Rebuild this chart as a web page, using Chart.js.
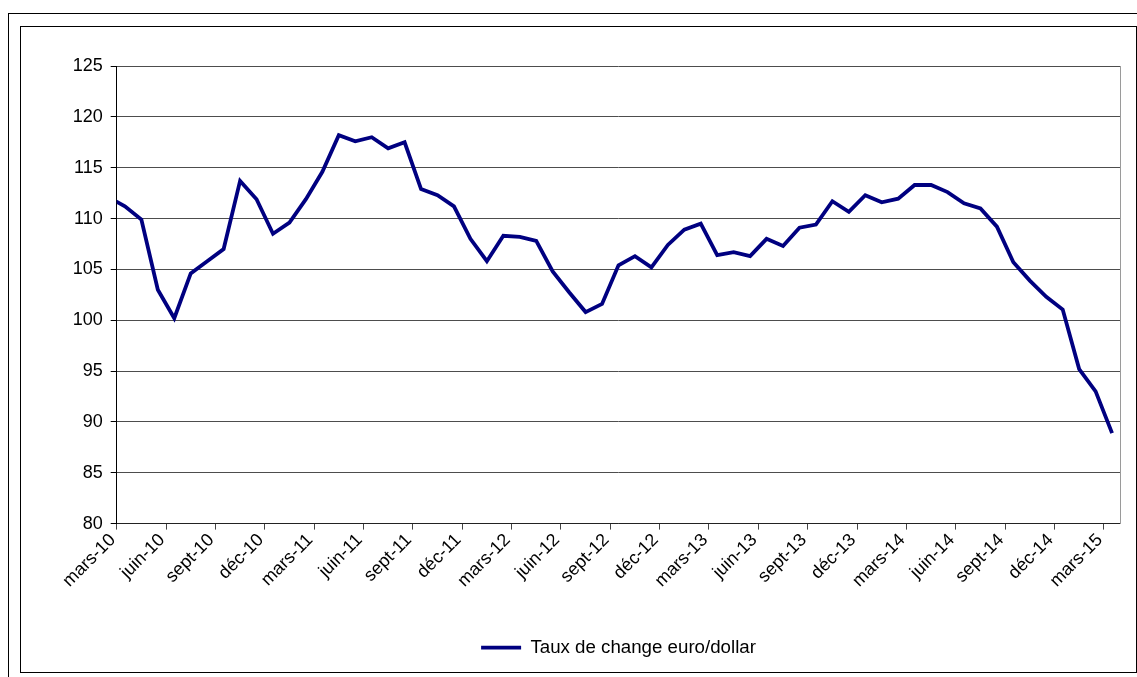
<!DOCTYPE html>
<html lang="fr">
<head>
<meta charset="utf-8">
<title>Taux de change euro/dollar</title>
<script src="https://cdn.jsdelivr.net/npm/chart.js@4.4.1/dist/chart.umd.min.js"></script>
<style>
  html, body { margin: 0; padding: 0; background: #fff; overflow: hidden; }
  body { width: 1137px; height: 677px; position: relative; }
  .frame { position: absolute; border: 1px solid #000; box-sizing: border-box; }
  #outer { left: 8px; top: 13px; width: 1200px; height: 800px; }
  #inner { left: 20px; top: 26px; width: 1117px; height: 647px; }
  #chart { position: absolute; left: 0; top: 0; }
</style>
</head>
<body>
<div class="frame" id="outer"></div>
<div class="frame" id="inner"></div>
<canvas id="chart" width="1137" height="677"></canvas>
<script>
// Monthly averages, stamped mid-month; the first one sits left of the axis and gets clipped
const months = [
  'févr-10', 'mars-10', 'avr-10', 'mai-10', 'juin-10', 'juil-10', 'août-10', 'sept-10', 'oct-10', 'nov-10', 'déc-10',
  'janv-11', 'févr-11', 'mars-11', 'avr-11', 'mai-11', 'juin-11', 'juil-11', 'août-11', 'sept-11', 'oct-11', 'nov-11', 'déc-11',
  'janv-12', 'févr-12', 'mars-12', 'avr-12', 'mai-12', 'juin-12', 'juil-12', 'août-12', 'sept-12', 'oct-12', 'nov-12', 'déc-12',
  'janv-13', 'févr-13', 'mars-13', 'avr-13', 'mai-13', 'juin-13', 'juil-13', 'août-13', 'sept-13', 'oct-13', 'nov-13', 'déc-13',
  'janv-14', 'févr-14', 'mars-14', 'avr-14', 'mai-14', 'juin-14', 'juil-14', 'août-14', 'sept-14', 'oct-14', 'nov-14', 'déc-14',
  'janv-15', 'févr-15', 'mars-15'
];

const tauxChange = [
  112.1, 111.2, 109.9, 103.0, 100.2, 104.6, 105.8, 107.0, 113.7, 111.9, 108.5,
  109.6, 111.9, 114.6, 118.2, 117.6, 118.0, 116.9, 117.5, 112.9, 112.3, 111.2, 108.0,
  105.8, 108.3, 108.2, 107.8, 104.8, 102.75, 100.8, 101.6, 105.4, 106.3, 105.2, 107.4,
  108.9, 109.5, 106.4, 106.7, 106.3, 108.0, 107.3, 109.1, 109.4, 111.7, 110.65, 112.3,
  111.6, 111.95, 113.3, 113.3, 112.6, 111.5, 111.0, 109.2, 105.7, 103.9, 102.3, 101.05,
  95.2, 93.0, 88.9
];

const yTicks = [80, 85, 90, 95, 100, 105, 110, 115, 120, 125];
const seriesLabel = 'Taux de change euro/dollar';

// x axis counts months from 1 March 2010; a month's value sits at its middle
const points = tauxChange.map((v, i) => ({ x: i - 0.5, y: v }));

Chart.defaults.font.family = "'Liberation Sans', Arial, sans-serif";
Chart.defaults.color = '#000';

const font = { size: 18 };

new Chart(document.getElementById('chart'), {
  type: 'line',
  data: {
    datasets: [{
      label: seriesLabel,
      data: points,
      borderColor: '#000080',
      backgroundColor: '#000080',
      borderWidth: 3.8,
      pointRadius: 0,
      tension: 0
    }]
  },
  options: {
    responsive: false,
    animation: false,
    layout: { padding: { left: 30, right: 16.7, top: 66, bottom: 10 } },
    plugins: {
      tooltip: { enabled: false },
      legend: {
        position: 'bottom',
        fullSize: false,
        labels: {
          usePointStyle: true,
          pointStyle: 'line',
          pointStyleWidth: 40,
          padding: 10,
          color: '#000',
          font: { size: 18.7 }
        }
      }
    },
    scales: {
      x: {
        type: 'linear',
        min: 0,
        max: months.length - 1,
        grid: { drawOnChartArea: false, drawTicks: true, tickLength: 6, color: '#444' },
        border: { color: '#222', width: 1 },
        ticks: {
          stepSize: 3,
          includeBounds: false,
          autoSkip: false,
          minRotation: 45,
          maxRotation: 45,
          padding: 0,
          labelOffset: -4,
          font: font,
          callback: v => months[v + 1]
        },
        afterFit: s => { s.height = 104.7; }
      },
      y: {
        min: yTicks[0],
        max: yTicks[yTicks.length - 1],
        grid: { color: '#4d4d4d', tickLength: 6, tickColor: '#000' },
        border: { color: '#000', width: 1 },
        ticks: { stepSize: 5, padding: 8, font: font },
        afterFit: s => { s.width = 86.7; }
      },
      y2: {
        position: 'right',
        min: 0,
        max: 1,
        grid: { display: false, drawTicks: false },
        ticks: { display: false },
        border: { color: '#9a9a9a', width: 1 },
        afterFit: s => { s.width = 0; }
      }
    }
  }
});
</script>
</body>
</html>
